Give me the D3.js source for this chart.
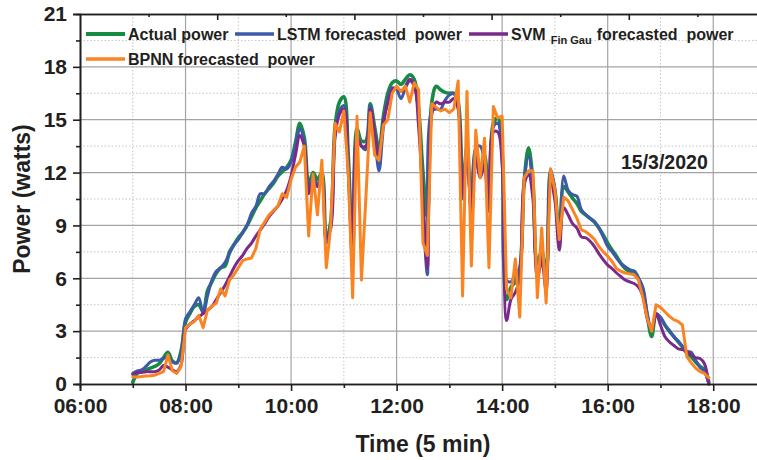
<!DOCTYPE html>
<html>
<head>
<meta charset="utf-8">
<script src="https://cdn.jsdelivr.net/npm/d3@7"></script>
<style>
  html, body { margin: 0; padding: 0; background: #fff; }
  svg text { font-family: "Liberation Sans", Arial, sans-serif; font-weight: bold; fill: #231f20; }
</style>
</head>
<body>
<svg id="chart" width="757" height="460"></svg>
<script>
// One reading every 5 minutes, starting 07:00 (minutes after midnight)
const firstSampleMin = 7 * 60;
const sampleStepMin = 5;

// Measured power (W), 07:00 .. 17:55, one row per hour
const actualPower = [
  0.1, 0.6, 0.75, 0.8, 0.9, 1.0, 1.15, 1.5, 1.8, 1.3, 1.2, 1.9,
  3.5, 4.0, 4.4, 4.5, 4.1, 5.3, 5.8, 6.3, 6.6, 6.7, 7.5, 7.9,
  8.3, 8.6, 9.0, 9.5, 10.0, 10.4, 10.8, 11.1, 11.4, 11.8, 12.05, 12.3,
  12.7, 13.7, 14.8, 14.0, 11.3, 12.0, 11.6, 12.0, 8.2, 9.2, 14.6, 16.0,
  16.3, 13.0, 7.5, 14.5, 13.8, 13.8, 15.9, 14.6, 13.3, 15.2, 16.5, 17.1,
  17.2, 17.0, 17.3, 17.55, 17.3, 15.6, 12.0, 9.5, 16.0, 16.9, 16.7, 16.55,
  16.5, 16.5, 16.0, 11.0, 13.5, 10.0, 13.2, 12.0, 13.0, 10.5, 14.8, 15.1,
  13.0, 4.8, 5.5, 5.8, 6.5, 11.5, 13.4, 11.5, 7.0, 7.5, 6.2, 12.0,
  11.0, 8.2, 11.2, 10.9, 10.55, 10.25, 9.8, 9.6, 9.4, 9.2, 8.85, 8.45,
  8.0, 7.6, 7.25, 6.85, 6.55, 6.4, 6.4, 6.0, 5.3, 3.85, 2.7, 3.9,
  3.75, 3.35, 3.0, 2.7, 2.4, 2.1, 1.75, 1.55, 1.25, 1.0, 0.8, 0.1
];

const lstmPower = [
  0.6, 0.75, 0.8, 1.0, 1.25, 1.35, 1.35, 1.45, 1.55, 1.25, 1.2, 1.75,
  3.7, 4.1, 4.5, 4.9, 4.0, 5.0, 5.9, 6.4, 6.6, 6.9, 7.4, 7.9,
  8.2, 8.6, 9.0, 9.7, 10.1, 10.8, 10.8, 11.2, 11.5, 11.9, 12.3, 12.2,
  12.6, 13.5, 14.5, 13.7, 11.0, 11.8, 11.3, 11.8, 8.0, 9.0, 14.2, 15.5,
  15.8, 12.5, 7.8, 14.2, 13.5, 13.3, 15.8, 14.05, 12.1, 14.6, 16.2, 16.8,
  16.7, 16.2, 16.8, 17.2, 16.9, 15.3, 10.0, 6.2, 15.5, 15.6, 15.6, 16.1,
  16.4, 16.5, 15.8, 10.5, 13.3, 9.5, 13.4, 13.5, 12.5, 10.0, 14.6, 14.8,
  13.2, 5.9, 5.8, 6.2, 6.6, 11.5, 12.9, 11.2, 6.8, 7.2, 6.0, 12.2,
  11.0, 7.8, 11.8, 11.0, 10.75, 10.65, 9.9, 9.6, 9.4, 9.2, 8.85, 8.35,
  7.8, 7.5, 7.15, 6.85, 6.65, 6.5, 6.4, 6.0, 5.5, 4.0, 3.0, 4.0,
  3.8, 3.35, 3.05, 2.7, 2.45, 2.15, 1.85, 1.8, 1.35, 0.95, 0.7, 0.0
];

const svmPower = [
  0.55, 0.65, 0.65, 0.7, 0.7, 0.7, 0.8, 1.05, 0.95, 0.8, 0.7, 1.1,
  3.1, 3.4, 3.6, 3.8, 4.0, 4.2, 4.4, 4.8, 5.2, 5.6, 6.1, 6.6,
  7.0, 7.3, 7.7, 8.0, 8.4, 8.75, 9.1, 9.5, 9.8, 10.1, 10.5, 11.0,
  11.8, 13.0, 14.1, 13.5, 10.8, 11.5, 11.2, 11.5, 8.3, 8.8, 14.0, 15.3,
  15.6, 12.0, 7.0, 14.0, 13.5, 13.5, 15.6, 14.3, 12.9, 14.9, 15.95, 16.7,
  16.8, 16.6, 16.9, 17.3, 17.0, 14.6, 10.5, 6.6, 15.3, 16.0, 15.9, 16.0,
  16.0, 16.2, 15.6, 10.8, 13.0, 9.8, 12.8, 11.7, 12.4, 9.8, 14.3, 14.3,
  12.5, 3.6, 4.8, 5.2, 6.0, 11.3, 11.9, 10.5, 6.0, 7.0, 5.3, 11.6,
  10.4, 7.6, 10.0, 9.6, 9.1, 8.85, 8.35, 8.3, 8.1, 7.8, 7.4, 7.05,
  6.75, 6.55, 6.3, 6.1, 5.9, 5.8, 5.7, 5.5, 5.0, 3.7, 3.1, 4.0,
  3.35, 2.7, 2.4, 2.2, 2.0, 1.95, 1.85, 1.65, 1.5, 1.45, 1.15, 0.0
];

const bpnnPower = [
  0.4, 0.4, 0.42, 0.45, 0.47, 0.5, 0.6, 0.7, 1.65, 0.75, 0.6, 1.0,
  3.2, 3.4, 3.55, 3.9, 3.2, 4.2, 4.4, 4.6, 5.4, 5.0, 5.9, 6.2,
  6.6, 7.0, 7.1, 7.15, 7.7, 8.8, 9.2, 9.6, 9.85, 10.1, 10.8, 10.6,
  11.6, 12.3, 12.6, 13.5, 8.4, 11.9, 9.6, 12.7, 6.6, 8.9, 14.8, 14.3,
  15.5, 12.0, 4.9, 15.2, 5.9, 10.5, 15.4, 13.0, 12.7, 14.7, 15.0, 16.5,
  16.9, 16.6, 16.9, 16.0, 17.1, 16.7, 8.0, 7.3, 15.9, 15.7, 15.5, 15.6,
  15.4, 15.6, 17.2, 5.0, 16.6, 6.7, 14.4, 11.7, 13.95, 6.6, 15.75, 15.1,
  15.2, 5.4, 4.9, 7.1, 3.8, 11.7, 12.1, 12.1, 4.9, 8.85, 4.6, 12.2,
  11.0, 8.2, 10.6, 10.4, 9.9, 9.4, 8.75, 8.65, 8.45, 8.2, 7.8, 7.5,
  7.25, 6.95, 6.55, 6.4, 6.3, 6.25, 6.2, 5.9, 4.9, 3.7, 3.0, 4.5,
  4.35, 4.1, 3.85, 3.65, 3.55, 3.35, 1.55, 1.2, 0.9, 0.7, 0.6, 0.35
];

const seriesNames = ["Actual power", "LSTM forecasted  power", "SVM", "BPNN forecasted  power"];
const seriesColors = ["#178a44", "#3c5aa8", "#7a2a8b", "#fb8422"];
const xTickHours = [6, 8, 10, 12, 14, 16, 18];
const xTickLabels = ["06:00", "08:00", "10:00", "12:00", "14:00", "16:00", "18:00"];
const yTickValues = [0, 3, 6, 9, 12, 15, 18, 21];
const xTitle = "Time (5 min)";
const yTitle = "Power (watts)";
const dateLabel = "15/3/2020";

const svg = d3.select("#chart");
const plot = { left: 80, right: 766, top: 14, bottom: 384 };

const x = d3.scaleLinear().domain([6 * 60, 19 * 60]).range([plot.left, plot.right]);
const y = d3.scaleLinear().domain([0, 21]).range([plot.bottom, plot.top]);

// grid: dotted minor lines at odd hours / half steps, solid at the labelled steps
const grid = svg.append("g");
const minorHours = [7, 9, 11, 13, 15, 17];
const majorHours = [8, 10, 12, 14, 16, 18];
const minorY = [1.5, 4.5, 7.5, 10.5, 13.5, 16.5, 19.5];
const majorY = [3, 6, 9, 12, 15, 18];

grid.selectAll(".vmin").data(minorHours).join("line")
  .attr("x1", h => x(h * 60)).attr("x2", h => x(h * 60))
  .attr("y1", plot.top).attr("y2", plot.bottom)
  .attr("stroke", "#c4c4c4").attr("stroke-width", 1).attr("stroke-dasharray", "1.5,2");
grid.selectAll(".hmin").data(minorY).join("line")
  .attr("x1", plot.left).attr("x2", plot.right)
  .attr("y1", v => y(v)).attr("y2", v => y(v))
  .attr("stroke", "#c4c4c4").attr("stroke-width", 1).attr("stroke-dasharray", "1.5,2");
grid.selectAll(".vmaj").data(majorHours).join("line")
  .attr("x1", h => x(h * 60)).attr("x2", h => x(h * 60))
  .attr("y1", plot.top).attr("y2", plot.bottom)
  .attr("stroke", "#a3a3a3").attr("stroke-width", 1.2);
grid.selectAll(".hmaj").data(majorY).join("line")
  .attr("x1", plot.left).attr("x2", plot.right)
  .attr("y1", v => y(v)).attr("y2", v => y(v))
  .attr("stroke", "#a3a3a3").attr("stroke-width", 1.2);

// series
const sampleTime = i => firstSampleMin + i * sampleStepMin;
const smooth = d3.line().x((d, i) => x(sampleTime(i))).y(d => y(d)).curve(d3.curveCatmullRom.alpha(0.5));
const straight = d3.line().x((d, i) => x(sampleTime(i))).y(d => y(d));

const seriesData = [actualPower, lstmPower, svmPower, bpnnPower];
const lineGen = [smooth, smooth, smooth, straight];
const lineWidth = [3.6, 3, 3, 3];

const lines = svg.append("g").attr("fill", "none").attr("stroke-linejoin", "round").attr("stroke-linecap", "round");
seriesData.forEach((vals, k) => {
  lines.append("path")
    .attr("d", lineGen[k](vals))
    .attr("stroke", seriesColors[k])
    .attr("stroke-width", lineWidth[k]);
});

// axes
const axisColor = "#231f20";
const axisFont = 21;

const xMajor = d3.axisBottom(x).tickValues(xTickHours.map(h => h * 60))
  .tickFormat((d, i) => xTickLabels[i]).tickSize(7).tickPadding(7);
const xMinor = d3.axisBottom(x).tickValues(minorHours.map(h => h * 60)).tickFormat("").tickSize(4);
const yMajor = d3.axisLeft(y).tickValues(yTickValues).tickFormat(d3.format("d")).tickSize(7).tickPadding(6);
const yMinor = d3.axisLeft(y).tickValues(minorY).tickFormat("").tickSize(4);

function styleAxis(g) {
  g.select(".domain").attr("stroke", axisColor).attr("stroke-width", 1.6);
  g.selectAll(".tick line").attr("stroke", axisColor).attr("stroke-width", 1.6);
  g.selectAll(".tick text").attr("font-size", axisFont).attr("fill", axisColor)
    .attr("font-family", "'Liberation Sans', Arial, sans-serif").attr("font-weight", "bold");
}

svg.append("g").attr("transform", `translate(0,${plot.bottom})`).call(xMinor).call(styleAxis);
svg.append("g").attr("transform", `translate(0,${plot.bottom})`).call(xMajor).call(styleAxis);
svg.append("g").attr("transform", `translate(${plot.left},0)`).call(yMinor).call(styleAxis);
svg.append("g").attr("transform", `translate(${plot.left},0)`).call(yMajor).call(styleAxis);

// top frame with its own unlabelled scale (10 divisions, ticks pointing inward)
const xTop = d3.scaleLinear().domain([0, 10]).range([plot.left, plot.right]);
svg.append("g").attr("transform", `translate(0,${plot.top})`)
  .call(d3.axisTop(xTop).tickValues([1, 3, 5, 7, 9]).tickFormat("").tickSizeInner(-3).tickSizeOuter(0))
  .call(styleAxis);
svg.append("g").attr("transform", `translate(0,${plot.top})`)
  .call(d3.axisTop(xTop).tickValues([2, 4, 6, 8]).tickFormat("").tickSizeInner(-6).tickSizeOuter(0))
  .call(styleAxis);

// axis titles
svg.append("text").attr("x", 423).attr("y", 452).attr("text-anchor", "middle")
  .attr("font-size", 23).text(xTitle);
svg.append("text").attr("transform", `translate(30,${(plot.top + plot.bottom) / 2}) rotate(-90)`)
  .attr("text-anchor", "middle").attr("font-size", 23).text(yTitle);

// date annotation
svg.append("text").attr("x", 621).attr("y", 169).attr("font-size", 19.5).text(dateLabel);

// legend
const legendPos = [[86, 34], [235, 34], [469, 34], [86, 59]];
const legend = svg.append("g");
seriesNames.forEach((name, k) => {
  const [lx, ly] = legendPos[k];
  legend.append("line").attr("x1", lx).attr("x2", lx + 39).attr("y1", ly).attr("y2", ly)
    .attr("stroke", seriesColors[k]).attr("stroke-width", k === 0 ? 4 : 3.4);
  const t = legend.append("text").attr("x", lx + 42).attr("y", ly + 6)
    .attr("font-size", 16).style("white-space", "pre");
  t.append("tspan").text(name);
  if (k === 2) {
    t.append("tspan").attr("font-size", 11).attr("dx", 5).attr("dy", 4).text("Fin Gau");
    t.append("tspan").attr("dx", 5).attr("dy", -4).text("forecasted  power");
  }
});
</script>
</body>
</html>
